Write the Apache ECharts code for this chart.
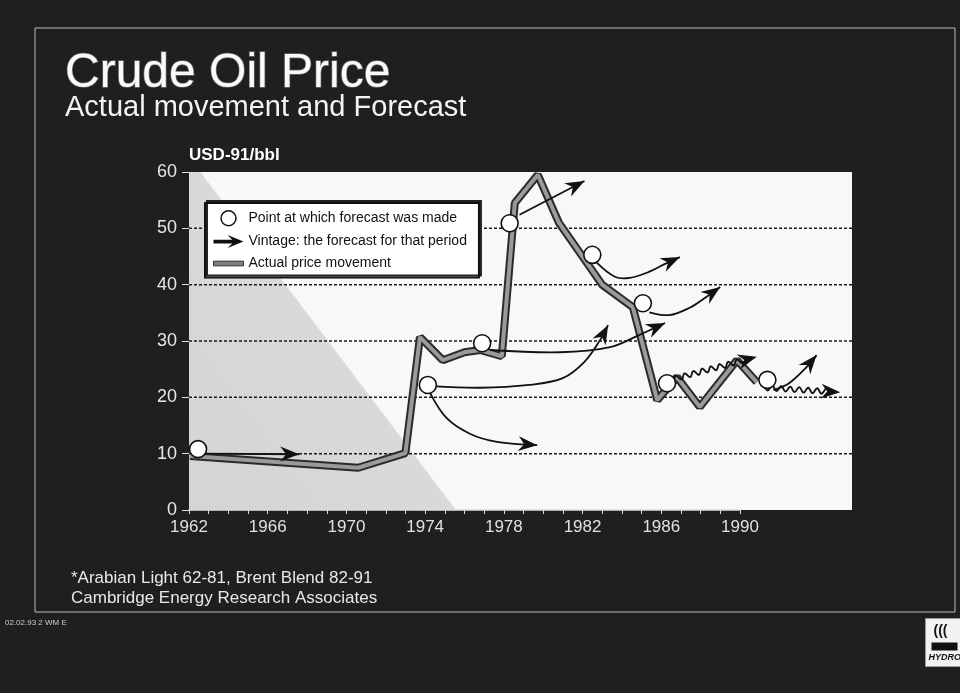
<!DOCTYPE html>
<html>
<head>
<meta charset="utf-8">
<script src="https://cdn.jsdelivr.net/npm/echarts@6/dist/echarts.min.js"></script>
<style>
  html, body { margin: 0; padding: 0; background: #1f1f1f; }
  #chart { width: 960px; height: 693px; }
</style>
</head>
<body>
<div id="chart"></div>
<script>
// actual price (USD-91/bbl)
const priceYears = [1962.05, 1970.6, 1973.0, 1973.74, 1974.9, 1976.0, 1976.8, 1977.9, 1978.56, 1979.73, 1980.8, 1982.0, 1983.0, 1984.56, 1985.8, 1986.8, 1987.96, 1989.85, 1990.86]
const priceValues = [9.6, 7.5, 10.1, 30.7, 26.6, 28.0, 28.4, 27.3, 54.5, 59.5, 51.0, 45.0, 40.0, 36.0, 19.5, 23.6, 18.3, 26.6, 22.7]

// points at which a forecast was made
const forecastYears = [1962.46, 1974.14, 1976.9, 1978.3, 1982.5, 1985.07, 1986.3, 1991.4]
const forecastValues = [10.8, 22.2, 29.6, 50.9, 45.3, 36.7, 22.5, 23.1]

// vintages: the forecast paths, [year, price]
const vintage1962 = [[1962.5, 10.0], [1967.6, 9.9]]
const vintage1974Low = [[1974.25, 20.8], [1975.1, 16.3], [1976.3, 13.5], [1977.65, 12.1], [1979.7, 11.5]]
const vintage1974High = [[1974.35, 22.0], [1976.8, 21.7], [1979.3, 22.2], [1981.0, 23.4], [1982.1, 26.3], [1982.9, 30.2], [1983.3, 32.8]]
const vintage1977 = [[1977.3, 28.4], [1980.85, 28.0], [1983.4, 28.9], [1984.9, 31.1], [1986.2, 33.2]]
const vintage1978 = [[1978.8, 52.4], [1982.1, 58.4]]
const vintage1982 = [[1982.7, 44.0], [1983.65, 41.4], [1984.4, 41.2], [1985.4, 42.3], [1986.2, 43.7], [1986.95, 44.9]]
const vintage1985 = [[1985.4, 35.1], [1986.4, 34.6], [1987.45, 35.9], [1988.2, 37.6], [1989.0, 39.6]]
const vintage1986 = [[1986.45, 23.1], [1990.86, 27.2]]
const vintage1991Up = [[1991.7, 21.3], [1992.5, 22.5], [1993.4, 25.4], [1993.9, 27.5]]
const vintage1991Flat = [[1991.3, 21.7], [1995.1, 20.9]]

const vintagePaths = [vintage1962, vintage1974Low, vintage1974High, vintage1977, vintage1978, vintage1982, vintage1985, vintage1986, vintage1991Up, vintage1991Flat]
const vintageWavy = [false, false, false, false, false, false, false, true, false, true]

const yTicks = [0, 10, 20, 30, 40, 50, 60]
const gridValues = [10, 20, 30, 40, 50]
const xTickYears = [1962, 1966, 1970, 1974, 1978, 1982, 1986, 1990]
const X_MIN = 1962
const X_MAX = 1995.7

const FONT = 'Liberation Sans, Arial, sans-serif'
const LEGEND_POINT = 'Point at which forecast was made'
const LEGEND_VINTAGE = 'Vintage: the forecast for that period'
const LEGEND_ACTUAL = 'Actual price movement'

// wiggle a straight path (pixel points) for the "wavy" vintages
function wave(pts, stopBefore) {
  const out = []
  let total = 0
  const segs = []
  for (let i = 1; i < pts.length; i++) {
    const l = Math.hypot(pts[i][0] - pts[i - 1][0], pts[i][1] - pts[i - 1][1])
    segs.push(l)
    total += l
  }
  const end = total - stopBefore
  let s = 0
  for (let i = 1; i < pts.length; i++) {
    const a = pts[i - 1]
    const b = pts[i]
    const l = segs[i - 1]
    const dx = (b[0] - a[0]) / l
    const dy = (b[1] - a[1]) / l
    for (let t = 0; t <= l; t += 1) {
      const d = s + t
      if (d > end) break
      const off = 2.6 * Math.sin(2 * Math.PI * d / 9)
      out.push([a[0] + dx * t - dy * off, a[1] + dy * t + dx * off])
    }
    s += l
  }
  return out
}

function renderVintage(params, api) {
  const idx = api.value(2)
  const pts = vintagePaths[idx].map(p => api.coord(p))
  const tip = pts[pts.length - 1]
  const prev = pts[pts.length - 2]
  let dx = tip[0] - prev[0]
  let dy = tip[1] - prev[1]
  const len = Math.hypot(dx, dy)
  dx /= len
  dy /= len
  const L = 19, W = 7.5, N = 6
  const nx = -dy, ny = dx
  const head = [
    tip,
    [tip[0] - L * dx + W * nx, tip[1] - L * dy + W * ny],
    [tip[0] - (L - N) * dx, tip[1] - (L - N) * dy],
    [tip[0] - L * dx - W * nx, tip[1] - L * dy - W * ny]
  ]
  const linePts = vintageWavy[idx] ? wave(pts, L - N) : pts
  return {
    type: 'group',
    children: [
      {
        type: 'polyline',
        shape: { points: linePts, smooth: vintageWavy[idx] ? 0 : 0.35 },
        style: { stroke: '#111', lineWidth: 1.8, fill: null }
      },
      {
        type: 'polygon',
        shape: { points: head },
        style: { fill: '#111' }
      }
    ]
  }
}

// dotted horizontal guides, drawn over the background wedge
function renderGuide(params, api) {
  const v = api.value(0)
  const a = api.coord([X_MIN, v])
  const b = api.coord([X_MAX, v])
  return {
    type: 'line',
    shape: { x1: a[0], y1: a[1], x2: b[0], y2: b[1] },
    style: { stroke: '#1a1a1a', lineWidth: 1.5, lineDash: [3, 2] }
  }
}

// plot background: light grey wedge lower-left, hard edge running diagonally
const plotBackground = new echarts.graphic.LinearGradient(0, 1, 0.88, -0.305, [
  { offset: 0, color: '#d4d4d4' },
  { offset: 0.29, color: '#d9d9d9' },
  { offset: 0.292, color: '#f8f8f8' },
  { offset: 1, color: '#f8f8f8' }
])

const chart = echarts.init(document.getElementById('chart'))
chart.setOption({
  backgroundColor: '#1f1f1f',
  animation: false,
  title: [
    {
      text: 'Crude Oil Price',
      subtext: 'Actual movement and Forecast',
      left: 60,
      top: 45,
      itemGap: -6,
      textStyle: {
        color: '#fafafa',
        fontFamily: FONT,
        fontSize: 48,
        fontWeight: 'normal',
        textBorderColor: '#6a6a6a',
        textBorderWidth: 1.5,
        textShadowColor: '#8a8a8a',
        textShadowOffsetX: 3,
        textShadowOffsetY: 2
      },
      subtextStyle: {
        color: '#f4f4f4',
        fontFamily: FONT,
        fontSize: 29
      }
    },
    {
      text: '*Arabian Light 62-81, Brent Blend 82-91\nCambridge Energy Research Associates',
      left: 66,
      top: 563,
      textStyle: {
        color: '#e8e8e8',
        fontFamily: FONT,
        fontSize: 17,
        fontWeight: 'normal',
        lineHeight: 20
      }
    },
    {
      text: '02.02.93 2 WM E',
      left: 0,
      top: 614,
      textStyle: { color: '#cfcfcf', fontFamily: FONT, fontSize: 8, fontWeight: 'normal' }
    }
  ],
  legend: {
    orient: 'vertical',
    left: 205,
    top: 203,
    z: 10,
    backgroundColor: '#ffffff',
    borderColor: '#111',
    borderWidth: 2,
    borderRadius: 0,
    shadowColor: '#222',
    shadowOffsetX: 2,
    shadowOffsetY: -2,
    padding: [7, 12, 7, 8],
    itemGap: 8,
    itemWidth: 30,
    itemHeight: 15,
    selectedMode: false,
    textStyle: { color: '#111', fontFamily: FONT, fontSize: 14 },
    data: [
      { name: LEGEND_POINT, icon: 'circle', itemStyle: { color: '#fff', borderColor: '#111', borderWidth: 1.5 } },
      { name: LEGEND_VINTAGE, icon: 'path://M0,5 L20,5 L15,0 L32,7 L15,14 L20,9 L0,9 Z', itemStyle: { color: '#111' } },
      { name: LEGEND_ACTUAL, icon: 'path://M0,5 L32,5 L32,10 L0,10 Z', itemStyle: { color: '#808080', borderColor: '#333', borderWidth: 1 } }
    ]
  },
  grid: [
    { left: 189, right: 108, top: 172, bottom: 183, show: true, backgroundColor: plotBackground, borderWidth: 0 },
    { left: 189, right: 220, top: 172, bottom: 183, show: false }
  ],
  xAxis: [
    { gridIndex: 0, type: 'value', min: X_MIN, max: X_MAX, show: false },
    {
      gridIndex: 1,
      type: 'value',
      min: 1962,
      max: 1990,
      interval: 1,
      axisLine: { lineStyle: { color: '#dedede', width: 1.5 } },
      axisTick: { length: 4, lineStyle: { color: '#dedede' } },
      axisLabel: {
        color: '#e0e0e0',
        fontFamily: FONT,
        fontSize: 17,
        margin: 9,
        formatter: v => (xTickYears.includes(v) ? String(v) : '')
      },
      splitLine: { show: false }
    }
  ],
  yAxis: [
    {
      gridIndex: 0,
      type: 'value',
      min: yTicks[0],
      max: yTicks[yTicks.length - 1],
      interval: 10,
      name: 'USD-91/bbl',
      nameLocation: 'end',
      nameGap: 8,
      nameTextStyle: { color: '#fff', fontFamily: FONT, fontWeight: 'bold', fontSize: 17, align: 'left' },
      axisLine: { show: false },
      axisTick: { show: true, length: 7, lineStyle: { color: '#dedede' } },
      axisLabel: { color: '#e6e6e6', fontFamily: FONT, fontSize: 18, margin: 12 },
      splitLine: { show: false }
    },
    { gridIndex: 1, type: 'value', min: 0, max: 60, show: false }
  ],
  series: [
    {
      name: 'guides',
      type: 'custom',
      z: 1,
      silent: true,
      encode: { y: 0 },
      data: gridValues.map(v => [v]),
      renderItem: renderGuide
    },
    {
      name: 'priceEdge',
      type: 'line',
      z: 2,
      showSymbol: false,
      data: priceYears.map((y, i) => [y, priceValues[i]]),
      lineStyle: { color: '#2b2b2b', width: 8 }
    },
    {
      name: LEGEND_ACTUAL,
      type: 'line',
      z: 3,
      showSymbol: false,
      data: priceYears.map((y, i) => [y, priceValues[i]]),
      itemStyle: { color: '#777' },
      lineStyle: { color: '#9a9a9a', width: 4 }
    },
    {
      name: LEGEND_VINTAGE,
      type: 'custom',
      z: 4,
      itemStyle: { color: '#111' },
      encode: { x: 0, y: 1 },
      data: vintagePaths.map((p, i) => [p[p.length - 1][0], p[p.length - 1][1], i]),
      renderItem: renderVintage
    },
    {
      name: LEGEND_POINT,
      type: 'scatter',
      z: 5,
      symbol: 'circle',
      symbolSize: 17,
      itemStyle: { color: '#fff', borderColor: '#111', borderWidth: 1.6, opacity: 1 },
      data: forecastYears.map((y, i) => [y, forecastValues[i]])
    }
  ],
  graphic: [
    {
      type: 'rect',
      silent: true,
      z: -1,
      shape: { x: 35, y: 28, width: 920, height: 584 },
      style: { fill: null, stroke: '#bdbdbd', lineWidth: 1 }
    },
    {
      type: 'group',
      left: 925,
      top: 618,
      children: [
        { type: 'rect', shape: { x: 0, y: 0, width: 36, height: 48 }, style: { fill: '#f2f2f2', stroke: '#999' } },
        { type: 'text', x: 8, y: 6, style: { text: '(((', fill: '#111', font: 'bold 14px ' + FONT } },
        { type: 'rect', shape: { x: 6, y: 24, width: 26, height: 8 }, style: { fill: '#111' } },
        { type: 'text', x: 3, y: 35, style: { text: 'HYDRO', fill: '#111', font: 'italic bold 9px ' + FONT } }
      ]
    }
  ]
})
</script>
</body>
</html>
